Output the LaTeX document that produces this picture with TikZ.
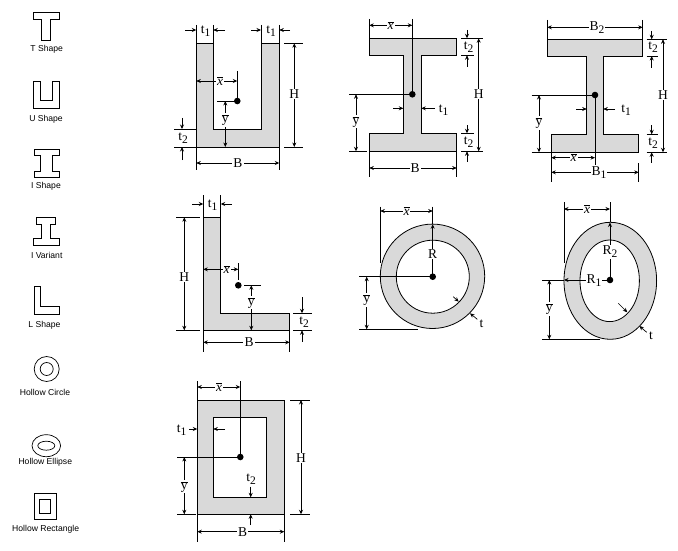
\documentclass[tikz,border=0pt]{standalone}
\usepackage{fontspec}
\setmainfont{Liberation Serif}
\newfontfamily\iconfont{Liberation Sans}
\usetikzlibrary{arrows.meta}
\newcommand{\tsub}[1]{t\raisebox{-3pt}{\fontsize{11.5}{11.5}\selectfont #1}}
\newcommand{\Bsub}[1]{B\raisebox{-3pt}{\fontsize{11.5}{11.5}\selectfont #1}}
\newcommand{\Rsub}[1]{R\raisebox{-3pt}{\fontsize{11.5}{11.5}\selectfont #1}}
\newcommand{\xb}{$\overline{\mbox{\itshape x}}$}
\newcommand{\yb}{$\overline{\mbox{y}}$}
\tikzset{
  sect/.style={draw=black,line width=0.8pt,fill=black!15},
  hole/.style={draw=black,line width=0.8pt,fill=white},
  icon/.style={draw=black,line width=0.7pt},
  ext/.style={draw=black,line width=0.7pt},
  ar/.style={draw=black,line width=0.7pt,-{Stealth[length=4.5pt,width=4pt,inset=1.5pt]}},
  dar/.style={draw=black,line width=0.7pt,{Stealth[length=4.5pt,width=4pt,inset=1.5pt]}-{Stealth[length=4.5pt,width=4pt,inset=1.5pt]}},
  dimf/.style={fill=white,inner sep=1pt,font=\fontsize{13.5}{13.5}\selectfont},
  dimn/.style={inner sep=0pt,font=\fontsize{13.5}{13.5}\selectfont},
  iconl/.style={inner sep=0pt,font=\iconfont\fontsize{8.6}{9}\selectfont},
  dotc/.style={fill=black,draw=none}
}
\begin{document}
\begin{tikzpicture}[x=1pt,y=-1pt]
\useasboundingbox (0,0) rectangle (678,551);
% ---------- icons
\draw[icon] (33.3,12.7)--(59.7,12.7)--(59.7,19)--(50.7,19)--(50.7,40)--(41,40)--(41,19)--(33.3,19)--cycle;
\node[iconl] (lt) at (46.7,49.7) {T Shape};
\draw[icon] (33.3,81.3)--(40,81.3)--(40,100.7)--(52.3,100.7)--(52.3,81.3)--(59.7,81.3)--(59.7,108.3)--(33.3,108.3)--cycle;
\node[iconl] (lu) at (46,119) {U Shape};
\draw[icon] (34,149.3)--(59,149.3)--(59,155.3)--(52.3,155.3)--(52.3,171)--(59,171)--(59,177.3)--(34,177.3)--(34,171)--(40.7,171)--(40.7,155.3)--(34,155.3)--cycle;
\node[iconl] (li) at (46,186.7) {I Shape};
\draw[icon] (36,217)--(55.7,217)--(55.7,224)--(50.7,224)--(50.7,238.7)--(59.7,238.7)--(59.7,245.7)--(33,245.7)--(33,238.7)--(41.3,238.7)--(41.3,224)--(36,224)--cycle;
\node[iconl] (lv) at (46.7,255.7) {I Variant};
\draw[icon] (34.3,286.7)--(40.7,286.7)--(40.7,306.7)--(59,306.7)--(59,314)--(34.3,314)--cycle;
\node[iconl] (ll) at (44.5,325) {L Shape};
\draw[icon] (46.7,369) circle (12.5);
\draw[icon] (46.7,369) circle (6.5);
\node[iconl] (lc) at (45,392.3) {Hollow Circle};
\draw[icon] (46.3,445.7) ellipse (14.3 and 11);
\draw[icon] (46.3,445.7) ellipse (8.5 and 4.5);
\node[iconl] (le) at (45.3,462.3) {Hollow Ellipse};
\draw[icon] (34,493.3) rectangle (56,519);
\draw[icon] (39.7,499.3) rectangle (50.3,513.3);
\node[iconl] (lr) at (45.7,529.3) {Hollow Rectangle};
% ---------- U section
\draw[sect] (196.3,43.3)--(213.3,43.3)--(213.3,129)--(261,129)--(261,43.3)--(279.3,43.3)--(279.3,147)--(196.3,147)--cycle;
\draw[ext] (196.3,25)--(196.3,43.3) (213.3,25)--(213.3,43.3) (261,25)--(261,43.3) (279.3,25)--(279.3,43.3);
\draw[ar] (185,30)--(196.3,30);
\draw[ar] (225,30)--(213.3,30);
\draw[ar] (251,30)--(261,30);
\draw[ar] (290,30)--(279.3,30);
\node[dimn] (ut1a) at (205.5,31) {\tsub{1}};
\node[dimn] (ut1b) at (271,31) {\tsub{1}};
\draw[ext] (284,43.3)--(303,43.3) (284,147)--(303,147);
\draw[dar] (294.3,43.3)--(294.3,147);
\node[dimf] (uh) at (294.3,94) {H};
\draw[ext] (237.3,71)--(237.3,101) (217,101)--(237.3,101);
\draw[dar] (196.3,81)--(237.3,81);
\node[dimf] (ux) at (220,81) {\xb};
\draw[dar] (225.3,101)--(225.3,147);
\node[dimf] (uy) at (225.3,120) {\yb};
\draw[ext] (174,129)--(196.3,129) (174,147)--(196.3,147);
\draw[ar] (182,118)--(182,129);
\draw[ar] (182,160)--(182,147);
\node[dimn] (ut2) at (183,138) {\tsub{2}};
\draw[ext] (196.3,147)--(196.3,170) (279.3,147)--(279.3,170);
\draw[dar] (196.3,163)--(279.3,163);
\node[dimf] (ub) at (238,163) {B};
\fill[dotc] (237.3,101) circle (3.3);
% ---------- I section
\draw[sect] (369.3,38.3)--(456.7,38.3)--(456.7,55.3)--(421.3,55.3)--(421.3,133.3)--(456.7,133.3)--(456.7,151.3)--(369.3,151.3)--(369.3,133.3)--(403.3,133.3)--(403.3,55.3)--(369.3,55.3)--cycle;
\draw[ext] (369.3,19)--(369.3,38.3) (412.3,19)--(412.3,94.3) (349,94.3)--(412.3,94.3) (349,151.3)--(367,151.3);
\draw[dar] (369.3,25.3)--(412.3,25.3);
\node[dimf] (ix) at (390.7,25.3) {\xb};
\draw[dar] (356,94.3)--(356,151.3);
\node[dimf] (iy) at (356,121.7) {\yb};
\draw[ar] (393,108.3)--(403.3,108.3);
\draw[ar] (435,108.3)--(421.3,108.3);
\node[dimn] (it1) at (443.5,110) {\tsub{1}};
\draw[ext] (461,38.3)--(483,38.3) (461,55.3)--(474,55.3) (461,133.3)--(474,133.3) (461,151.3)--(483,151.3);
\draw[ar] (467,30)--(467,38.3);
\draw[ar] (467,66.7)--(467,55.3);
\draw[ar] (467,125)--(467,133.3);
\draw[ar] (467,161.7)--(467,151.3);
\node[dimn] (it2a) at (468.5,47) {\tsub{2}};
\node[dimn] (it2b) at (468.5,142.5) {\tsub{2}};
\draw[dar] (478.7,38.3)--(478.7,151.3);
\node[dimf] (ih) at (478.7,94) {H};
\draw[ext] (369.3,151.3)--(369.3,176.7) (456.7,151.3)--(456.7,176.7);
\draw[dar] (369.3,168)--(456.7,168);
\node[dimf] (ib) at (415,168) {B};
\fill[dotc] (412.3,94.3) circle (3.3);
% ---------- I variant section
\draw[sect] (547.3,39.3)--(642.7,39.3)--(642.7,56)--(603.3,56)--(603.3,134.3)--(638.7,134.3)--(638.7,152.3)--(551.3,152.3)--(551.3,134.3)--(586.7,134.3)--(586.7,56)--(547.3,56)--cycle;
\draw[ext] (547.3,20)--(547.3,39.3) (642.7,20)--(642.7,39.3);
\draw[dar] (547.3,27.3)--(642.7,27.3);
\node[dimf] (vb2) at (597,27.8) {\Bsub{2}};
\draw[ext] (646.7,39.3)--(667.3,39.3) (646.7,56)--(657.7,56) (646.7,134.3)--(657.7,134.3) (646.7,152.3)--(667.3,152.3);
\draw[ar] (651.7,31)--(651.7,39.3);
\draw[ar] (651.7,68)--(651.7,56);
\draw[ar] (651.7,125)--(651.7,134.3);
\draw[ar] (651.7,162.7)--(651.7,152.3);
\node[dimn] (vt2a) at (653,47.5) {\tsub{2}};
\node[dimn] (vt2b) at (653,143.5) {\tsub{2}};
\draw[dar] (663,39.3)--(663,152.3);
\node[dimf] (vh) at (663,95) {H};
\draw[ext] (531.7,95)--(595,95) (531.7,152.3)--(551.3,152.3) (595,95)--(595,165);
\draw[dar] (539,95)--(539,152.3);
\node[dimf] (vy) at (539,123) {\yb};
\draw[ar] (576,109)--(586.7,109);
\draw[ar] (615,109)--(603.3,109);
\node[dimn] (vt1) at (626,110.5) {\tsub{1}};
\draw[ext] (551.3,152.3)--(551.3,181.7) (638.7,163)--(638.7,181.7);
\draw[dar] (551.3,157.7)--(595,157.7);
\node[dimf] (vx) at (573.7,157.7) {\xb};
\draw[dar] (551.3,172.3)--(638.7,172.3);
\node[dimf] (vb1) at (599,172.8) {\Bsub{1}};
\fill[dotc] (595,95) circle (3.3);
% ---------- L section
\draw[sect] (203.3,217.3)--(220.7,217.3)--(220.7,313.3)--(289.7,313.3)--(289.7,330.3)--(203.3,330.3)--cycle;
\draw[ext] (203.3,195)--(203.3,217.3) (220.7,195)--(220.7,217.3);
\draw[ar] (192,204)--(203.3,204);
\draw[ar] (231.7,204)--(220.7,204);
\node[dimn] (lt1) at (212.5,205) {\tsub{1}};
\draw[ext] (176,217.3)--(200,217.3) (176,330.3)--(200,330.3);
\draw[dar] (184.3,217.3)--(184.3,330.3);
\node[dimf] (lh) at (184.3,277) {H};
\draw[ext] (238.3,263)--(238.3,280);
\draw[dar] (203.3,269.3)--(238.3,269.3);
\node[dimf] (lx) at (226.7,269.3) {\xb};
\draw[ext] (244,285.3)--(261,285.3);
\draw[dar] (251.3,285.3)--(251.3,330.3);
\node[dimf] (ly) at (251.3,302.7) {\yb};
\draw[ext] (293,313.3)--(311.7,313.3) (293,330.3)--(311.7,330.3);
\draw[ar] (302,297)--(302,313.3);
\draw[ar] (302,341.7)--(302,330.3);
\node[dimn] (lt2) at (304,322) {\tsub{2}};
\draw[ext] (203.3,330.3)--(203.3,351.7) (289.7,330.3)--(289.7,351.7);
\draw[dar] (203.3,342.3)--(289.7,342.3);
\node[dimf] (lb) at (249,342.3) {B};
\fill[dotc] (238.3,285.3) circle (3.3);
% ---------- Hollow circle section
\draw[sect] (432.5,276.3) circle (52.2);
\draw[hole] (432.8,276.7) circle (36.5);
\draw[ext] (380.3,206.7)--(380.3,263) (432.7,206.7)--(432.7,224) (359,276.7)--(432.7,276.7) (359,329.3)--(418.3,329.3);
\draw[dar] (380.3,211)--(432.7,211);
\node[dimf] (cx) at (406.5,211) {\xb};
\draw[ar] (432.7,276.7)--(432.7,224.3);
\node[dimf] (cr) at (432.7,254) {R};
\draw[dar] (366.7,276.7)--(366.7,329.3);
\node[dimf] (cy) at (366.7,300) {\yb};
\draw[ar] (453.3,296.7)--(458.7,301.7);
\draw[ar] (477.3,319.3)--(470,313.3);
\node[dimn] (ct) at (481.5,323.5) {t};
\fill[dotc] (432.7,276.7) circle (3.3);
% ---------- Hollow ellipse section
\draw[sect] (610.3,280.8) ellipse (46.3 and 58.5);
\draw[hole] (609.7,280.8) ellipse (29.7 and 40.8);
\draw[ext] (564,202.3)--(564,263) (610,202.3)--(610,222.3) (542,280)--(564,280) (542,339.3)--(600,339.3);
\draw[dar] (564,209)--(610,209);
\node[dimf] (ex) at (587,209) {\xb};
\draw[ar] (610,280)--(610,222.5);
\node[dimf] (er2) at (610,252) {\Rsub{2}};
\draw[ar] (610,280)--(564,280);
\node[dimf] (er1) at (594,280.5) {\Rsub{1}};
\draw[dar] (549.3,280)--(549.3,339.3);
\node[dimf] (ey) at (549.3,309) {\yb};
\draw[ar] (618.3,303.3)--(627.3,312.3);
\draw[ar] (646.7,332.3)--(639.3,326);
\node[dimn] (et) at (651,336) {t};
\fill[dotc] (610,280) circle (3.3);
% ---------- Hollow rectangle section
\draw[sect] (197.3,400) rectangle (284.3,514.3);
\draw[hole] (213.3,417.3) rectangle (266.3,497.3);
\draw[ext] (197.3,381)--(197.3,400) (240.3,381)--(240.3,457) (177,457)--(240.3,457) (177,514.3)--(195.7,514.3);
\draw[dar] (197.3,387)--(240.3,387);
\node[dimf] (rx) at (219,387) {\xb};
\draw[dar] (184.3,457)--(184.3,514.3);
\node[dimf] (ry) at (184.3,486.7) {\yb};
\draw[ar] (189,429)--(197.3,429);
\draw[ar] (225,429)--(213.3,429);
\node[dimn] (rt1) at (181.5,430) {\tsub{1}};
\draw[ar] (250.7,486.7)--(250.7,497.3);
\draw[ar] (250.7,525)--(250.7,514.3);
\node[dimn] (rt2) at (251,479.5) {\tsub{2}};
\draw[ext] (290,400)--(310,400) (290,514.3)--(310,514.3);
\draw[dar] (301,400)--(301,514.3);
\node[dimf] (rh) at (301,458) {H};
\draw[ext] (197.3,514.3)--(197.3,541.7) (284.3,514.3)--(284.3,541.7);
\draw[dar] (197.3,531.7)--(284.3,531.7);
\node[dimf] (rb) at (242.7,531.7) {B};
\fill[dotc] (240.3,457) circle (3.3);
\end{tikzpicture}
\end{document}
